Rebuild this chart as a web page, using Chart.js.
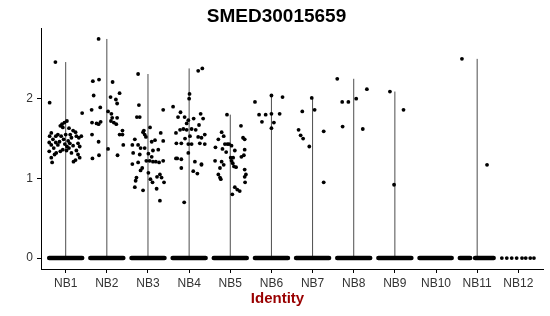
<!DOCTYPE html>
<html lang="en">
<head>
   <meta charset="UTF-8">
   <title>SMED30015659</title>
   <script src="https://cdn.jsdelivr.net/npm/chart.js@4.4.0/dist/chart.umd.min.js"></script>
   <style>
      html, body { margin: 0; padding: 0; background: #fff; }
      #wrap { width: 550px; height: 316px; }
   </style>
</head>
<body>
   <div id="wrap"><canvas id="vln" width="550" height="316"></canvas></div>
   <script>
      var categories = ['NB1', 'NB2', 'NB3', 'NB4', 'NB5', 'NB6', 'NB7', 'NB8', 'NB9', 'NB10', 'NB11', 'NB12'];
      var yTicks = [0, 1, 2];

      // non-zero cells per identity: [jitter offset, expression]
      var nb1 = [[-0.25,2.46],[-0.39,1.95],[0.40,1.82],[-0.09,1.68],[-0.03,1.70],[0.03,1.72],[-0.13,1.66],[-0.07,1.64],[0.08,1.63],[0.18,1.60],[0.24,1.58],
         [-0.19,1.55],[-0.24,1.53],[-0.35,1.57],[-0.39,1.53],[0.00,1.55],[0.14,1.51],[0.32,1.51],[0.38,1.53],[0.26,1.53],
         [-0.31,1.49],[-0.15,1.46],[-0.05,1.49],[0.06,1.47],[0.10,1.44],[-0.40,1.45],[-0.24,1.45],[-0.35,1.42],[-0.19,1.42],
         [-0.02,1.43],[0.03,1.40],[0.08,1.38],[0.30,1.44],[0.34,1.40],[0.18,1.41],[-0.29,1.38],[-0.40,1.34],[-0.23,1.32],
         [-0.13,1.34],[0.02,1.35],[0.14,1.32],[0.26,1.35],[0.30,1.30],[-0.27,1.30],[-0.35,1.26],[0.34,1.26],[0.24,1.23],
         [0.19,1.21],[-0.33,1.20],[-0.07,1.36],[0.11,1.55],[-0.11,1.53]];
      var nb2 = [[-0.20,2.75],[-0.34,2.22],[-0.19,2.24],[0.14,2.21],[-0.32,2.04],[0.31,2.07],[0.09,2.02],[0.22,1.99],[0.25,1.94],
         [-0.16,1.89],[-0.37,1.86],[0.03,1.84],[0.11,1.81],[0.25,1.76],[-0.36,1.70],[-0.25,1.69],[-0.20,1.68],[-0.15,1.71],
         [0.10,1.72],[0.17,1.70],[0.23,1.68],[0.13,1.76],[-0.36,1.55],[0.31,1.55],[0.38,1.55],[0.38,1.60],[-0.20,1.46],
         [0.40,1.42],[0.03,1.37],[-0.35,1.25],[-0.19,1.29],[0.26,1.29]];
      var nb3 = [[-0.24,2.31],[-0.22,1.92],[-0.27,1.77],[-0.20,1.77],[0.37,1.86],[0.05,1.64],[-0.10,1.60],[-0.08,1.55],[-0.05,1.52],[-0.12,1.58],
         [-0.32,1.49],[-0.38,1.42],[-0.24,1.42],[-0.18,1.38],[-0.08,1.38],[0.09,1.46],[0.17,1.48],[0.31,1.57],[0.37,1.47],
         [0.25,1.36],[0.12,1.35],[-0.36,1.32],[-0.20,1.30],[0.01,1.31],[0.09,1.27],[-0.04,1.22],[0.04,1.22],[0.12,1.21],[0.19,1.21],
         [0.37,1.22],[-0.38,1.18],[-0.24,1.20],[-0.14,1.13],[-0.18,1.10],[0.01,1.07],[0.29,1.05],[0.22,1.02],[0.33,1.01],
         [-0.28,1.01],[-0.30,0.97],[0.39,0.95],[0.06,0.99],[0.11,0.95],[-0.32,0.89],[0.21,0.87],[-0.12,0.85],[0.29,0.72],[0.27,1.20]];
      var nb4 = [[0.22,2.35],[0.32,2.38],[0.00,2.00],[0.01,2.06],[-0.39,1.90],[-0.21,1.83],[-0.27,1.77],[-0.11,1.77],[-0.02,1.73],[-0.06,1.69],
         [0.11,1.75],[0.28,1.81],[0.34,1.75],[0.24,1.67],[-0.14,1.62],[-0.22,1.61],[-0.32,1.57],[-0.06,1.61],[0.06,1.62],[0.16,1.61],
         [0.22,1.52],[0.30,1.51],[0.38,1.55],[0.02,1.53],[-0.10,1.50],[-0.31,1.44],[-0.19,1.44],[-0.02,1.43],[0.06,1.43],[0.38,1.43],
         [0.26,1.44],[-0.02,1.32],[-0.29,1.25],[-0.19,1.24],[0.14,1.21],[0.30,1.18],[-0.19,1.13],[0.10,1.09],[0.20,1.06],[-0.12,0.70],
         [-0.32,1.25],[0.30,1.17]];
      var nb5 = [[-0.08,1.80],[0.26,1.66],[-0.21,1.58],[-0.16,1.53],[-0.29,1.49],[0.31,1.51],[0.35,1.49],[-0.13,1.43],[-0.07,1.43],[-0.03,1.43],
         [0.03,1.41],[-0.36,1.39],[-0.19,1.37],[0.11,1.35],[0.35,1.36],[-0.10,1.33],[0.33,1.29],[0.27,1.27],[0.01,1.26],[0.07,1.26],
         [0.03,1.22],[-0.37,1.22],[-0.21,1.21],[-0.16,1.17],[-0.25,1.13],[0.06,1.19],[0.09,1.15],[0.14,1.14],[0.35,1.11],
         [-0.29,1.05],[-0.25,1.01],[-0.23,0.99],[0.38,1.05],[0.35,1.02],[0.36,0.95],[0.11,0.89],[0.17,0.86],[0.23,0.84],[0.05,0.80]];
      var nb6 = [[-0.40,1.96],[0.00,2.04],[0.27,2.02],[-0.30,1.80],[-0.14,1.80],[0.00,1.81],[0.20,1.81],[-0.23,1.71],[0.06,1.70],[0.00,1.63]];
      var nb7 = [[-0.34,1.61],[-0.29,1.54],[-0.23,1.50],[-0.08,1.40],[-0.25,1.84],[-0.02,2.01],[0.05,1.86],[0.27,1.59],[0.27,0.95]];
      var nb8 = [[-0.40,2.25],[-0.28,1.96],[-0.13,1.96],[-0.27,1.65],[0.06,2.00],[0.32,2.12],[0.22,1.62]];
      var nb9 = [[-0.12,2.09],[0.21,1.86],[-0.02,0.92]];
      var nb10 = [];
      var nb11 = [[-0.37,2.50],[0.24,1.17]];
      var nb12 = [];
      var groups = [nb1, nb2, nb3, nb4, nb5, nb6, nb7, nb8, nb9, nb10, nb11, nb12];

      // zero cells: packed runs (offset from..to) and single dots where sparse
      var zeroSpans = [[[-0.4,0.4]],[[-0.4,0.4]],[[-0.4,0.4]],[[-0.4,0.4]],[[-0.4,0.4]],[[-0.4,0.4]],
         [[-0.4,0.4]],[[-0.4,0.4]],[[-0.4,0.4]],[[-0.4,0.38]],[[-0.42,-0.17],[-0.05,0.4]],[]];
      var zeroDots = [[],[],[],[],[],[],[],[],[],[],[],[-0.40,-0.28,-0.16,-0.04,0.09,0.18,0.29,0.38]];

      var datasets = [];
      // jittered cells
      var pts = [];
      groups.forEach(function(g, i) {
         g.forEach(function(p) { pts.push({x: i + 1 + p[0], y: p[1]}); });
         zeroDots[i].forEach(function(o) { pts.push({x: i + 1 + o, y: 0}); });
      });
      datasets.push({data: pts, pointRadius: 1.9, pointHoverRadius: 1.9, backgroundColor: '#000', borderWidth: 0, order: 0});
      // dense zero rows
      zeroSpans.forEach(function(spans, i) {
         spans.forEach(function(s) {
            datasets.push({data: [{x: i + 1 + s[0], y: 0}, {x: i + 1 + s[1], y: 0}], showLine: true, pointRadius: 0,
               borderColor: '#000', borderWidth: 4.6, borderCapStyle: 'round', order: 1});
         });
      });
      // violins (collapsed to a line since most cells are zero)
      groups.forEach(function(g, i) {
         if (!g.length) return;
         var top = Math.max.apply(null, g.map(function(p) { return p[1]; }));
         datasets.push({data: [{x: i + 1, y: 0}, {x: i + 1, y: top}], showLine: true, pointRadius: 0,
            borderColor: 'rgba(0,0,0,0.7)', borderWidth: 1, order: 3});
      });

      var fontFam = '"Liberation Sans", Arial, sans-serif';
      var textPlugin = {
         id: 'texts',
         afterDraw: function(chart) {
            var c = chart.ctx;
            c.save();
            c.textAlign = 'center';
            c.fillStyle = '#000';
            c.font = 'bold 19px ' + fontFam;
            c.fillText('SMED30015659', 276.5, 22);
            c.fillStyle = '#990000';
            c.font = 'bold 15px ' + fontFam;
            c.fillText('Identity', 277.5, 303);
            c.restore();
         }
      };

      var ctx = document.getElementById('vln').getContext('2d');
      var chart = new Chart(ctx, {
         type: 'scatter',
         plugins: [textPlugin],
         data: {datasets: datasets},
         options: {
            responsive: false,
            animation: false,
            events: [],
            layout: {padding: {top: 28, right: 7, left: 0, bottom: 0}},
            plugins: {legend: {display: false}, tooltip: {enabled: false}},
            scales: {
               x: {
                  type: 'linear', min: 0.4, max: 12.6,
                  afterBuildTicks: function(axis) { axis.ticks = categories.map(function(c, i) { return {value: i + 1}; }); },
                  afterFit: function(scale) { scale.height = 47; },
                  ticks: {
                     autoSkip: false, maxRotation: 0, padding: 3,
                     color: '#333', font: {family: fontFam, size: 12},
                     callback: function(v) { return categories[v - 1]; }
                  },
                  grid: {drawOnChartArea: false, color: '#000', tickColor: '#000', tickLength: 4},
                  border: {display: true, color: '#000', width: 1}
               },
               y: {
                  min: -0.1375, max: 2.8875,
                  afterBuildTicks: function(axis) { axis.ticks = yTicks.map(function(v) { return {value: v}; }); },
                  afterFit: function(scale) { scale.width = 41; },
                  ticks: {padding: 4, color: '#333', font: {family: fontFam, size: 12}},
                  grid: {drawOnChartArea: false, color: '#000', tickColor: '#000', tickLength: 4},
                  border: {display: true, color: '#000', width: 1}
               }
            }
         }
      });
   </script>
</body>
</html>
